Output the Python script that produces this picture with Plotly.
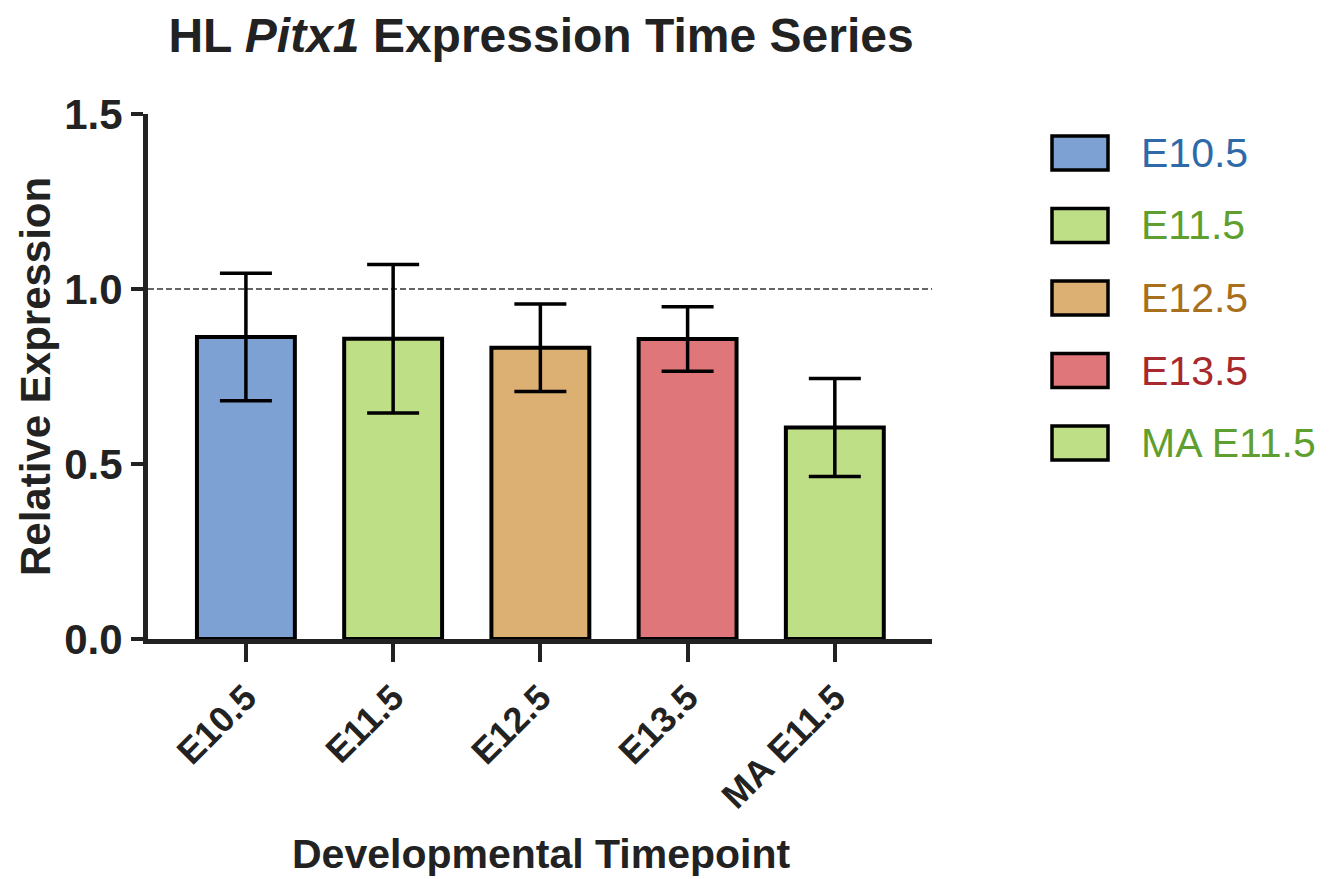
import plotly.graph_objects as go

# ---- data ----
categories = ["E10.5", "E11.5", "E12.5", "E13.5", "MA E11.5"]
means = [0.863, 0.858, 0.832, 0.857, 0.604]
errors = [0.182, 0.212, 0.125, 0.092, 0.140]
bar_colors = ["#7ea1d4", "#bfdf87", "#dcaf72", "#df767a", "#bfdf87"]
legend_text_colors = ["#2f6aa8", "#5f9f2f", "#a86f1d", "#a8292b", "#5f9f2f"]
y_ticks = [0.0, 0.5, 1.0, 1.5]
y_tick_text = ["0.0", "0.5", "1.0", "1.5"]
reference_level = 1.0

FONT = "Liberation Sans, Arial, Helvetica, sans-serif"
INK = "#222222"

W, H = 1337, 879
ML, MR, MT, MB = 148, 405, 114, 240
PW = W - ML - MR
PH = H - MT - MB

fig = go.Figure()
fig.add_trace(go.Bar(
    x=list(range(len(categories))),
    y=means,
    width=0.665,
    marker=dict(color=bar_colors, line=dict(color="#000000", width=4)),
    error_y=dict(type="data", array=errors, symmetric=True,
                 color="#000000", thickness=3.5, width=26),
    showlegend=False,
    hoverinfo="skip",
))

# reference line at 1.0
fig.add_shape(type="line", xref="paper", yref="y", x0=0, x1=1,
              y0=reference_level, y1=reference_level,
              line=dict(color="#333333", width=1.6, dash="6px,3px"),
              layer="below")

def px_to_paper_x(px):
    return (px - ML) / PW

def px_to_paper_y(py):
    return (H - MB - py) / PH

# manual legend
item_centers = [153, 225.5, 298, 370.5, 443]
for i, cat in enumerate(categories):
    cy = item_centers[i]
    fig.add_shape(type="rect", xref="paper", yref="paper",
                  x0=px_to_paper_x(1052), x1=px_to_paper_x(1108),
                  y0=px_to_paper_y(cy + 17), y1=px_to_paper_y(cy - 17),
                  fillcolor=bar_colors[i], line=dict(color="#000000", width=3.5))
    fig.add_annotation(xref="paper", yref="paper",
                       x=px_to_paper_x(1139), y=px_to_paper_y(cy),
                       xanchor="left", yanchor="middle", showarrow=False,
                       text=cat, font=dict(family=FONT, size=41,
                                           color=legend_text_colors[i]))

# axis titles
fig.add_annotation(xref="paper", yref="paper",
                   x=px_to_paper_x(541), y=px_to_paper_y(854),
                   xanchor="center", yanchor="middle", showarrow=False,
                   text="<b>Developmental Timepoint</b>",
                   font=dict(family=FONT, size=41, color=INK))
fig.add_annotation(xref="paper", yref="paper",
                   x=px_to_paper_x(35), y=px_to_paper_y(377),
                   xanchor="center", yanchor="middle", showarrow=False,
                   textangle=-90,
                   text="<b>Relative Expression</b>",
                   font=dict(family=FONT, size=42, color=INK))

fig.update_layout(
    width=W, height=H,
    margin=dict(l=ML, r=MR, t=MT, b=MB),
    paper_bgcolor="white", plot_bgcolor="white",
    title=dict(text="<b>HL <i>Pitx1</i> Expression Time Series</b>",
               x=px_to_paper_x(541), xref="paper", xanchor="center",
               y=1 - 35 / H, yref="container", yanchor="middle",
               font=dict(family=FONT, size=48, color=INK)),
    showlegend=False,
    xaxis=dict(
        range=[-0.665, 4.66],
        tickmode="array", tickvals=list(range(len(categories))),
        ticktext=[f"<b>{c}</b>" for c in categories],
        tickangle=-45,
        ticks="outside", ticklen=18, tickwidth=4, tickcolor=INK,
        showline=True, linecolor=INK, linewidth=5,
        showgrid=False, zeroline=False,
        tickfont=dict(family=FONT, size=36, color=INK),
        fixedrange=True,
    ),
    yaxis=dict(
        range=[0, 1.5],
        tickmode="array", tickvals=y_ticks,
        ticktext=[f"<b>{t}</b>" for t in y_tick_text],
        ticks="outside", ticklen=12, tickwidth=4, tickcolor=INK,
        showline=True, linecolor=INK, linewidth=5,
        showgrid=False, zeroline=False,
        tickfont=dict(family=FONT, size=42, color=INK),
        fixedrange=True,
    ),
    bargap=0.335,
)

fig.write_html("out.html", config={"displayModeBar": False})
